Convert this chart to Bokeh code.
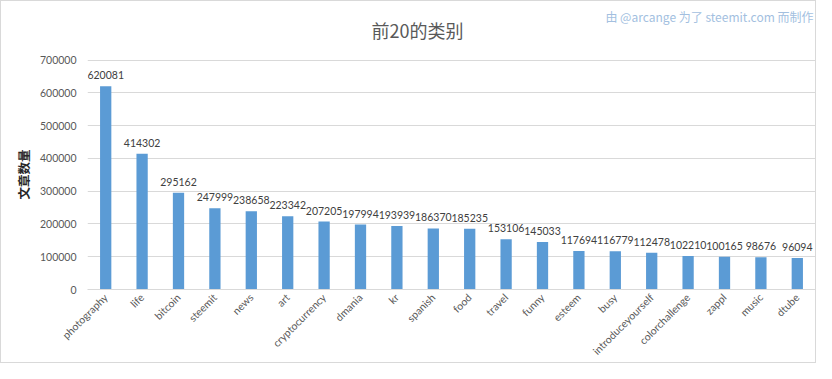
from math import pi
from bokeh.plotting import figure
from bokeh.models import (ColumnDataSource, Range1d, FactorRange, Title, Label,
                          NumeralTickFormatter, FixedTicker)
from bokeh.core.properties import value
from bokeh.embed import file_html
from bokeh.resources import INLINE

categories = ["photography", "life", "bitcoin", "steemit", "news", "art", "cryptocurrency",
              "dmania", "kr", "spanish", "food", "travel", "funny", "esteem", "busy",
              "introduceyourself", "colorchallenge", "zappl", "music", "dtube"]
counts = [620081, 414302, 295162, 247999, 238658, 223342, 207205, 197994, 193939, 186370,
          185235, 153106, 145033, 117694, 116779, 112478, 102210, 100165, 98676, 96094]
y_ticks = [0, 100000, 200000, 300000, 400000, 500000, 600000, 700000]
title_text = "前20的类别"
y_label = "文章数量"
credit = "由 @arcange 为了 steemit.com 而制作"

FONT = "Noto Sans CJK SC"
NUM_FONT = "Lato"

# layout (pixels)
W, H = 816, 363
LEFT, RIGHT = 86, 2
FRAME_BOTTOM = 290          # y of the zero line from the top of the figure
GRID_TOP = 59               # y of the 700000 gridline
Y_MAX_TICK = 700000
Y_END = Y_MAX_TICK * FRAME_BOTTOM / (FRAME_BOTTOM - GRID_TOP)

src = ColumnDataSource(dict(cat=categories, val=counts, lab=[str(v) for v in counts]))

p = figure(width=W, height=H, title=None,
           x_range=FactorRange(*categories, range_padding=0),
           y_range=Range1d(0, Y_END), output_backend="svg", toolbar_location=None,
           min_border_left=LEFT, min_border_right=RIGHT, min_border_top=0,
           min_border_bottom=H - FRAME_BOTTOM)
p.x_range.factor_padding = 0
p.outline_line_color = None
p.background_fill_color = "white"
p.border_fill_color = "white"
p.styles = {"border": "1px solid #d9d9d9"}

p.vbar(x="cat", top="val", width=0.31, source=src, fill_color="#5B9BD5", line_color=None)
p.text(x="cat", y="val", text="lab", source=src, text_align="center", text_baseline="bottom",
       y_offset=-7, text_font=value(NUM_FONT), text_font_size="10.5px", text_color="#404040")

p.xgrid.grid_line_color = None
p.ygrid.grid_line_color = "#D9D9D9"
p.yaxis.ticker = FixedTicker(ticks=y_ticks)
p.yaxis.formatter = NumeralTickFormatter(format="0")
p.yaxis.axis_line_color = None
p.yaxis.major_tick_line_color = None
p.yaxis.minor_tick_line_color = None
p.yaxis.major_tick_out = 0
p.yaxis.minor_tick_out = 0
p.yaxis.major_label_standoff = 11
p.yaxis.major_label_text_font = NUM_FONT
p.yaxis.major_label_text_font_size = "10.5px"
p.yaxis.major_label_text_color = "#595959"

p.xaxis.axis_line_color = "#D9D9D9"
p.xaxis.major_tick_line_color = None
p.xaxis.minor_tick_line_color = None
p.xaxis.major_tick_out = 0
p.xaxis.minor_tick_out = 0
p.xaxis.major_label_orientation = pi / 4
p.xaxis.major_label_standoff = 6
p.xaxis.major_label_text_font = NUM_FONT
p.xaxis.major_label_text_font_size = "10.5px"
p.xaxis.major_label_text_color = "#595959"

# y-axis title, placed in the left panel outside the tick labels
p.add_layout(Title(text=y_label, align="left", offset=90, standoff=7, vertical_align="bottom",
                   text_font=FONT, text_font_size="12.5px", text_font_style="bold",
                   text_color="#262626"), "left")

# chart title and credit line (screen units are relative to the plot frame, y upward)
p.add_layout(Label(x=416 - LEFT, y=FRAME_BOTTOM - 30, x_units="screen", y_units="screen",
                   text=title_text, text_align="center", text_baseline="middle",
                   text_font=FONT, text_font_size="18px", text_color="#595959"))
p.add_layout(Label(x=812 - LEFT, y=FRAME_BOTTOM - 17, x_units="screen", y_units="screen",
                   text=credit, text_align="right", text_baseline="middle", text_font=FONT,
                   text_font_size="12px", text_color="#A3BFDF"))

open("out.html", "w").write(file_html(p, INLINE))
